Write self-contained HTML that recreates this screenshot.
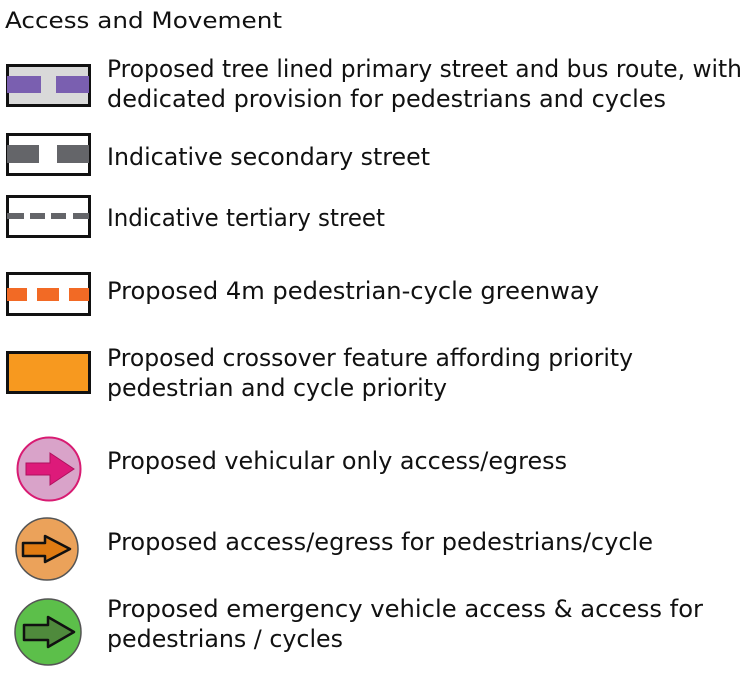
<!DOCTYPE html>
<html><head><meta charset="utf-8"><style>html,body{margin:0;padding:0;background:#fff}svg{display:block}</style></head>
<body>
<svg width="754" height="680" viewBox="0 0 754 680" xmlns="http://www.w3.org/2000/svg" font-family="'DejaVu Sans','Liberation Sans',sans-serif" fill="#111">
<g font-size="24">
<text x="5" y="28" font-size="22" textLength="277" lengthAdjust="spacingAndGlyphs">Access and Movement</text>
<text x="107" y="77" textLength="635" lengthAdjust="spacingAndGlyphs">Proposed tree lined primary street and bus route, with</text>
<text x="107" y="107" textLength="559" lengthAdjust="spacingAndGlyphs">dedicated provision for pedestrians and cycles</text>
<text x="107" y="165" textLength="323" lengthAdjust="spacingAndGlyphs">Indicative secondary street</text>
<text x="107" y="226" textLength="278" lengthAdjust="spacingAndGlyphs">Indicative tertiary street</text>
<text x="107" y="299" textLength="492" lengthAdjust="spacingAndGlyphs">Proposed 4m pedestrian-cycle greenway</text>
<text x="107" y="366" textLength="526" lengthAdjust="spacingAndGlyphs">Proposed crossover feature affording priority</text>
<text x="107" y="396" textLength="340" lengthAdjust="spacingAndGlyphs">pedestrian and cycle priority</text>
<text x="107" y="469" textLength="460" lengthAdjust="spacingAndGlyphs">Proposed vehicular only access/egress</text>
<text x="107" y="550" textLength="546" lengthAdjust="spacingAndGlyphs">Proposed access/egress for pedestrians/cycle</text>
<text x="107" y="617" textLength="596" lengthAdjust="spacingAndGlyphs">Proposed emergency vehicle access &amp; access for</text>
<text x="107" y="647" textLength="236" lengthAdjust="spacingAndGlyphs">pedestrians / cycles</text>
</g>
<g stroke="#111" stroke-width="3">
<rect x="7.5" y="65.5" width="82" height="40" fill="#d9d9d9"/>
<rect x="7.5" y="134.5" width="82" height="40" fill="#fff"/>
<rect x="7.5" y="196.5" width="82" height="40" fill="#fff"/>
<rect x="7.5" y="273.5" width="82" height="41" fill="#fff"/>
<rect x="7.5" y="352.5" width="82" height="40" fill="#f7991f"/>
</g>
<g stroke="none">
<rect x="7" y="76" width="34" height="17" fill="#7a5fb0"/><rect x="56" y="76" width="33" height="17" fill="#7a5fb0"/>
<rect x="7" y="145" width="32" height="18" fill="#646569"/><rect x="57" y="145" width="32" height="18" fill="#646569"/>
<rect x="7" y="213" width="17" height="6" fill="#646569"/><rect x="30" y="213" width="15" height="6" fill="#646569"/><rect x="51" y="213" width="15" height="6" fill="#646569"/><rect x="73" y="213" width="16" height="6" fill="#646569"/>
<rect x="7" y="288" width="20" height="13" fill="#f26a25"/><rect x="37" y="288" width="22" height="13" fill="#f26a25"/><rect x="69" y="288" width="20" height="13" fill="#f26a25"/>
</g>
<circle cx="49" cy="469" r="31.5" fill="#d9a3c9" stroke="#d81b72" stroke-width="2"/>
<path d="M26 463 H50 V453 L74 469 L50 485 V475 H26 Z" fill="#dd1a7a" stroke="#b0105e" stroke-width="1"/>
<circle cx="47" cy="549" r="31" fill="#eba25a" stroke="#555" stroke-width="1.5"/>
<path d="M23 543 H45 V536 L70 549 L45 562 V556 H23 Z" fill="#e07b12" stroke="#111" stroke-width="2.5" stroke-linejoin="round"/>
<circle cx="48" cy="632" r="33" fill="#5cbf4a" stroke="#555" stroke-width="1.5"/>
<path d="M24 625 H48 V617 L74 632 L48 647 V640 H24 Z" fill="#4f8a3c" stroke="#111" stroke-width="2.5" stroke-linejoin="round"/>
</svg>
</body></html>
